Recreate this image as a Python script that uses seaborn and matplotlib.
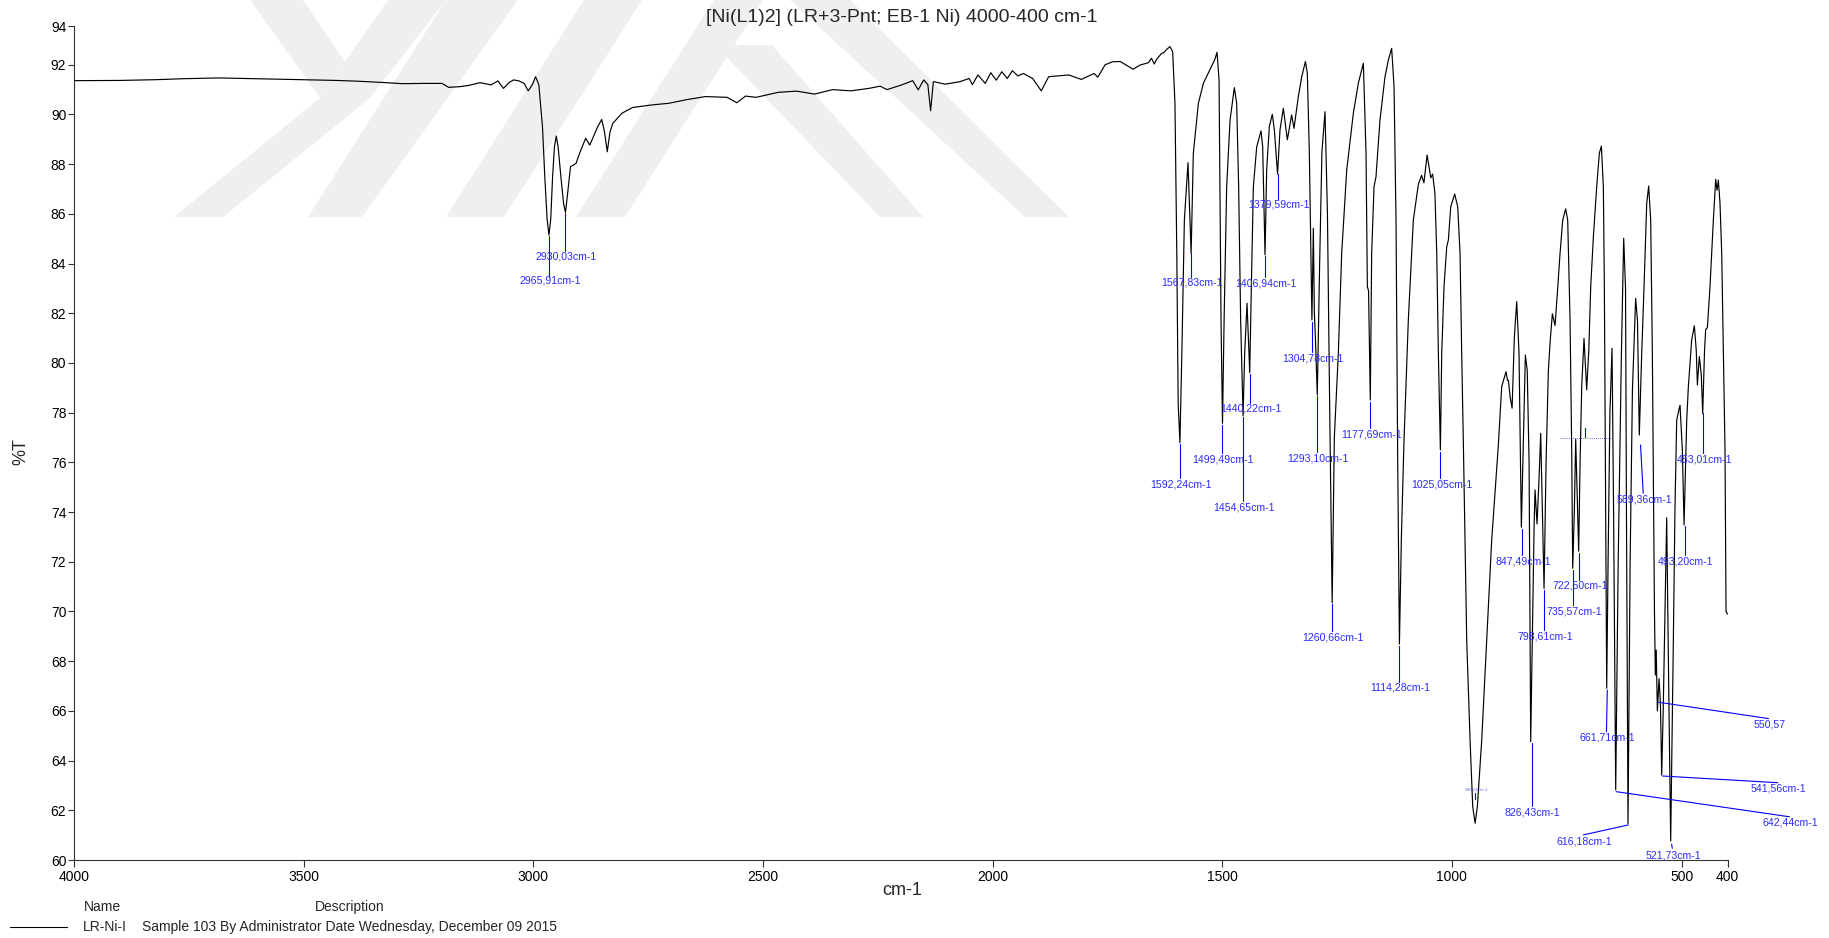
import numpy as np
import pandas as pd
import matplotlib
matplotlib.use("Agg")
import matplotlib.pyplot as plt
import seaborn as sns

# ---- FT-IR spectrum of [Ni(L1)2], read point by point (cm-1, %T) ----
wavenumber = [
    4000, 3900, 3821, 3760, 3685, 3630, 3578, 3530, 3481, 3430, 3384, 3330, 3286, 3240,
    3199, 3184, 3160, 3140, 3116, 3092, 3077, 3065, 3053, 3043, 3031, 3020, 3011, 3002,
    2995, 2988, 2980, 2975, 2970, 2966, 2962, 2958, 2954, 2950, 2946, 2940, 2934, 2930,
    2926, 2919, 2907, 2898, 2886, 2877, 2860, 2851, 2845, 2839, 2833, 2827, 2807, 2784,
    2744, 2705, 2665, 2625, 2578, 2557, 2538, 2515, 2467, 2427, 2388, 2348, 2309, 2269,
    2245, 2230, 2198, 2174, 2162, 2150, 2141, 2135, 2129, 2103, 2071, 2051, 2044, 2032,
    2016, 2004, 1992, 1980, 1968, 1957, 1945, 1933, 1913, 1894, 1878, 1834, 1807, 1779,
    1771, 1755, 1739, 1722, 1715, 1694, 1679, 1661, 1654, 1648, 1643, 1637, 1632, 1627,
    1621, 1614, 1608, 1603, 1599, 1596, 1592.2, 1588, 1582.5, 1574.6, 1567.8, 1563, 1552,
    1541, 1527, 1516, 1511.4, 1507, 1505, 1502.7, 1499.5, 1496, 1490.4, 1483, 1473.7,
    1468.6, 1464.3, 1460, 1454.7, 1451.2, 1446.1, 1440.2, 1436.7, 1432.3, 1425, 1415.6,
    1412, 1406.9, 1403.3, 1397.5, 1391, 1386.6, 1379.6, 1374.3, 1367, 1358.3, 1349,
    1343.8, 1334.4, 1327, 1319, 1314.8, 1310.4, 1304.8, 1301.7, 1299.5, 1297.3, 1293.1,
    1288, 1283, 1276.3, 1271, 1266, 1260.7, 1256, 1247.3, 1240, 1229, 1214.6, 1203.7,
    1192.8, 1187, 1184.1, 1181.5, 1177.7, 1174.7, 1169.6, 1165.3, 1156.6, 1145.7, 1138.4,
    1131.2, 1126, 1121.7, 1118, 1114.3, 1110, 1104.3, 1094.9, 1084, 1073, 1066, 1061,
    1054, 1050, 1046, 1042, 1037, 1033, 1029.5, 1025.1, 1022.2, 1017.2, 1011.3, 1007.7,
    1002.6, 994, 987.4, 982.3, 978.7, 975, 967.8, 960.5, 954.7, 949.5, 944.6, 935.1,
    924.3, 913.4, 898.9, 891.6, 882.2, 879, 877, 873, 869, 864, 858.9, 853.9, 851,
    848.8, 844.4, 840.1, 836, 832, 828.5, 824, 821, 819, 814.7, 810, 806.7, 803, 799.4,
    795, 790, 786, 781.3, 775.5, 770.4, 764.6, 758.8, 752.3, 747.9, 742.8, 739.2, 737,
    733.5, 730.5, 727, 724, 721, 717.4, 712.4, 706.6, 702, 697.8, 692, 684.8, 679, 674.6,
    670.3, 668.1, 665.5, 663, 660, 656, 651.4, 648, 643.4, 638, 631, 626, 622, 620,
    616.6, 612, 607, 600, 596, 592, 586.8, 581.7, 575.9, 571.6, 567.2, 563.6, 559,
    557.1, 555.2, 552.7, 549, 546, 543.3, 540, 536, 532.4, 528, 523.7, 517.9, 514.3,
    510.6, 506, 503.4, 498.3, 494.6, 491, 488.8, 485.2, 478, 472.2, 468, 465.6, 461.3,
    457, 454, 450, 447.5, 443.8, 438.1, 430.8, 425.7, 422.8, 419.9, 416.3, 412.6, 409,
    405.4, 403.2, 400,
]
transmittance = [
    91.36, 91.37, 91.40, 91.44, 91.47, 91.45, 91.43, 91.41, 91.39, 91.37, 91.34, 91.29, 91.24, 91.25,
    91.25, 91.09, 91.12, 91.17, 91.28, 91.19, 91.35, 91.05, 91.28, 91.39, 91.35, 91.25, 90.95, 91.20,
    91.52, 91.20, 89.50, 87.50, 85.80, 85.15, 85.80, 87.50, 88.70, 89.13, 88.70, 87.50, 86.40, 86.06,
    86.70, 87.90, 88.03, 88.50, 89.04, 88.77, 89.50, 89.80, 89.30, 88.50, 89.30, 89.64, 90.05, 90.28,
    90.38, 90.45, 90.60, 90.72, 90.69, 90.47, 90.74, 90.69, 90.89, 90.94, 90.82, 91.00, 90.95, 91.05,
    91.14, 91.00, 91.19, 91.36, 90.99, 91.39, 91.20, 90.15, 91.32, 91.22, 91.32, 91.45, 91.20, 91.59,
    91.25, 91.68, 91.38, 91.72, 91.45, 91.76, 91.55, 91.65, 91.45, 90.95, 91.52, 91.59, 91.41, 91.65,
    91.50, 92.00, 92.12, 92.13, 92.05, 91.82, 91.99, 92.08, 92.26, 92.03, 92.22, 92.35, 92.46, 92.49,
    92.62, 92.73, 92.53, 90.45, 84.41, 78.38, 76.79, 80.39, 85.75, 88.06, 84.41, 88.44, 90.45,
    91.26, 91.80, 92.22, 92.50, 91.39, 87.09, 81.73, 77.57, 81.73, 87.09, 89.78, 91.08,
    90.45, 87.09, 81.73, 77.87, 80.39, 82.40, 79.61, 83.07, 87.09, 88.70, 89.34,
    88.70, 84.35, 87.77, 89.52, 90.01, 89.38, 87.60, 89.38, 90.25, 88.98, 89.98,
    89.44, 90.72, 91.52, 92.13, 91.66, 88.44, 81.73, 85.42, 82.00, 81.06, 78.71,
    84.00, 88.50, 90.11, 86.00, 78.00, 70.35, 77.00, 80.39, 84.41, 87.77, 90.05, 91.26,
    92.06, 88.44, 83.07, 82.90, 78.51, 84.41, 87.09, 87.50, 89.78, 91.52, 92.19,
    92.66, 91.12, 85.75, 76.00, 68.69, 73.00, 76.90, 81.73, 85.75, 87.20, 87.55, 87.25,
    88.37, 87.90, 87.45, 87.60, 86.83, 84.41, 80.39, 76.50, 80.39, 83.07, 84.68, 84.95,
    86.29, 86.80, 86.29, 84.41, 80.39, 76.70, 68.85, 64.83, 62.15, 61.48, 62.15, 64.83,
    68.85, 72.87, 76.70, 79.05, 79.65, 79.30, 79.30, 78.60, 78.18, 81.07, 82.47, 80.39, 76.50,
    73.39, 76.90, 80.32, 79.70, 76.00, 64.76, 70.00, 73.50, 74.89, 73.52, 75.50, 77.17, 74.00, 70.93,
    76.00, 79.70, 80.90, 81.98, 81.51, 82.82, 84.41, 85.75, 86.20, 85.75, 81.73, 76.50, 71.74,
    74.00, 76.93, 74.50, 72.43, 76.00, 79.05, 80.99, 78.92, 80.50, 83.07, 85.08, 87.09, 88.44, 88.73,
    87.09, 83.07, 75.00, 66.91, 72.00, 78.00, 80.59, 74.00, 62.82, 72.00, 80.39, 85.02, 83.00, 74.00,
    61.45, 72.00, 78.90, 82.60, 81.70, 77.10, 80.39, 83.07, 86.42, 87.12, 85.75, 80.39, 70.00,
    67.44, 68.45, 66.00, 67.30, 66.30, 63.42, 66.00, 70.00, 73.77, 67.00, 60.76, 68.85, 74.21,
    77.70, 78.10, 78.30, 76.50, 73.48, 76.00, 77.70, 79.05, 80.93, 81.50, 80.50, 79.12, 80.26,
    79.50, 77.97, 80.50, 81.35, 81.42, 83.07, 85.75, 87.39, 86.95, 87.36, 86.42, 84.41, 80.39,
    76.50, 70.00, 69.90,
]

# ---- peak picks printed on the spectrum ----
peak_positions = [
    2965.91, 2930.03, 1592.24, 1567.83, 1499.49, 1454.65, 1440.22, 1406.94, 1379.59,
    1304.78, 1293.10, 1260.66, 1177.69, 1114.28, 1025.05, 949.14, 847.49, 826.43,
    798.61, 735.57, 722.50, 661.71, 642.44, 616.18, 589.36, 550.57, 541.56, 521.73,
    493.20, 453.01,
]
peak_labels = [
    "2965,91cm-1", "2930,03cm-1", "1592,24cm-1", "1567,83cm-1", "1499,49cm-1",
    "1454,65cm-1", "1440,22cm-1", "1406,94cm-1", "1379,59cm-1", "1304,78cm-1",
    "1293,10cm-1", "1260,66cm-1", "1177,69cm-1", "1114,28cm-1", "1025,05cm-1",
    "949,14cm-1", "847,49cm-1", "826,43cm-1", "798,61cm-1", "735,57cm-1", "722,50cm-1",
    "661,71cm-1", "642,44cm-1", "616,18cm-1", "589,36cm-1", "550,57", "541,56cm-1",
    "521,73cm-1", "493,20cm-1", "453,01cm-1",
]

x_ticks = [4000, 3500, 3000, 2500, 2000, 1500, 1000, 500, 400]
y_ticks = [60, 62, 64, 66, 68, 70, 72, 74, 76, 78, 80, 82, 84, 86, 88, 90, 92]

title_text = "[Ni(L1)2] (LR+3-Pnt; EB-1 Ni) 4000-400 cm-1"
sample_name = "LR-Ni-I"
sample_description = "Sample 103 By Administrator Date Wednesday, December 09 2015"

# ---- label placement: (line top %T, line end cm-1 or None, line end %T, label %T) ----
pick_layout = {
    2965.91: (85.11, None, 83.46, 83.30),
    2930.03: (86.04, None, 84.52, 84.28),
    1592.24: (76.74, None, 75.36, 75.13),
    1567.83: (84.41, None, 83.47, 83.23),
    1499.49: (77.50, None, 76.37, 76.12),
    1454.65: (77.81, None, 74.46, 74.19),
    1440.22: (79.56, None, 78.38, 78.15),
    1406.94: (84.31, None, 83.47, 83.21),
    1379.59: (87.61, None, 86.61, 86.37),
    1304.78: (81.66, None, 80.45, 80.19),
    1293.10: (78.67, None, 76.43, 76.17),
    1260.66: (70.30, None, 69.23, 68.96),
    1177.69: (78.44, None, 77.37, 77.13),
    1114.28: (68.61, None, 67.18, 66.95),
    1025.05: (76.43, None, 75.36, 75.09),
    949.14: (62.71, None, 62.44, 62.83),
    847.49: (73.31, None, 72.27, 72.00),
    826.43: (64.70, None, 62.17, 61.92),
    798.61: (70.87, None, 69.26, 68.99),
    735.57: (71.67, None, 70.26, 69.99),
    722.50: (72.34, None, 71.27, 71.03),
    661.71: (66.84, 663.5, 65.16, 64.92),
    642.44: (62.75, 265.2, 61.74, 61.50),
    616.18: (61.41, 713.9, 61.01, 60.74),
    589.36: (76.70, 583.5, 74.76, 74.52),
    550.57: (66.35, 310.6, 65.69, 65.46),
    541.56: (63.38, 290.4, 63.11, 62.87),
    521.73: (60.64, 520.2, 60.47, 60.20),
    493.20: (73.44, None, 72.27, 72.00),
    453.01: (77.98, None, 76.39, 76.12),
}

FIG_W, FIG_H = 1829, 938
sns.set_style("ticks")
plt.rcParams["font.family"] = ["Liberation Sans", "DejaVu Sans"]
plt.rcParams["axes.linewidth"] = 0.8

fig = plt.figure(figsize=(FIG_W / 100, FIG_H / 100), dpi=100)
fig.patch.set_facecolor("white")

# faint background emblem (light grey chevrons), kept behind everything
emblem_grey = "#efefef"
emblem_shapes = [
    [(250, 0), (303, 0), (345, 62), (320, 98)],
    [(388, 0), (446, 0), (370, 98), (320, 98)],
    [(320, 98), (370, 98), (223, 217), (174, 217)],
    [(446, 0), (518, 0), (362, 217), (308, 217)],
    [(584, 0), (642, 0), (504, 217), (446, 217)],
    [(714, 0), (763, 0), (625, 217), (576, 217)],
    [(715, 45), (772, 45), (923, 217), (880, 217)],
    [(790, 0), (850, 0), (1069, 217), (1025, 217)],
]
for shape in emblem_shapes:
    pts = [(px / FIG_W, 1 - py / FIG_H) for px, py in shape]
    fig.patches.append(plt.Polygon(pts, closed=True, transform=fig.transFigure,
                                   facecolor=emblem_grey, edgecolor="none", zorder=-5))

ax = fig.add_axes([74 / FIG_W, 1 - 860 / FIG_H, (1727.5 - 74) / FIG_W, (860 - 26) / FIG_H])
ax.set_facecolor("none")
ax.set_zorder(2)

spectrum = pd.DataFrame({"cm-1": wavenumber, "%T": transmittance})
sns.lineplot(data=spectrum, x="cm-1", y="%T", ax=ax, sort=False, estimator=None,
             color="black", linewidth=0.85, zorder=3)

ax.set_xlim(4000, 400)
top_value = 93.56
ax.set_ylim(60, top_value)
ax.set_xticks(x_ticks)
ax.set_xticklabels([str(t) for t in x_ticks])
ax.set_yticks(y_ticks + [top_value])
ax.set_yticklabels([str(t) for t in y_ticks] + ["94"])
ax.tick_params(axis="both", direction="out", length=4, width=0.8, color="#333333",
               labelsize=10, pad=1.5, labelcolor="black")
ax.tick_params(axis="x", length=5, pad=2)
for side in ("top", "right"):
    ax.spines[side].set_visible(False)
for side in ("left", "bottom"):
    ax.spines[side].set_color("#333333")
ax.set_xlabel("")
ax.set_ylabel("")

# peak picks
pick_color = "#0000ff"
text_color = "#2a2aff"
for pos, label in zip(peak_positions, peak_labels):
    t_top, x_end, t_end, t_lab = pick_layout[pos]
    xe = pos if x_end is None else x_end
    small = label.startswith("949")
    ax.plot([pos, xe], [t_top, t_end], color=pick_color, linewidth=0.8,
            clip_on=False, zorder=4)
    ax.text(xe - 2, t_lab, label, color=text_color,
            fontsize=3.2 if small else 7.6, ha="center", va="center",
            alpha=0.7 if small else 1.0, clip_on=False, zorder=5)

# unreadable pick mark near 710 cm-1
ax.plot([710.2, 710.2], [77.37, 77.04], color=pick_color, linewidth=0.8, zorder=4)
ax.plot([765, 653], [77.0, 77.0], color=pick_color, linewidth=0.6,
        linestyle=(0, (1, 1.5)), alpha=0.8, zorder=4)

# titles and axis names
fig.text(902 / FIG_W, 1 - 17.5 / FIG_H, title_text, ha="center", va="center", fontsize=14)
fig.text(902 / FIG_W, 1 - 890 / FIG_H, "cm-1", ha="center", va="center", fontsize=13)
fig.text(21 / FIG_W, 1 - 452 / FIG_H, "%T", ha="center", va="center", fontsize=13,
         rotation=90)

# sample table under the plot
fig.text(102 / FIG_W, 1 - 907 / FIG_H, "Name", ha="center", va="center", fontsize=10)
fig.text(350 / FIG_W, 1 - 907 / FIG_H, "Description", ha="center", va="center", fontsize=10)
fig.add_artist(plt.Line2D([10 / FIG_W, 67 / FIG_W], [1 - 927 / FIG_H, 1 - 927 / FIG_H],
                          color="black", linewidth=0.8, transform=fig.transFigure))
fig.text(83 / FIG_W, 1 - 927 / FIG_H, sample_name, ha="left", va="center", fontsize=10)
fig.text(142 / FIG_W, 1 - 927 / FIG_H, sample_description, ha="left", va="center",
         fontsize=10)

fig.savefig("out.png", dpi=100, facecolor="white")
